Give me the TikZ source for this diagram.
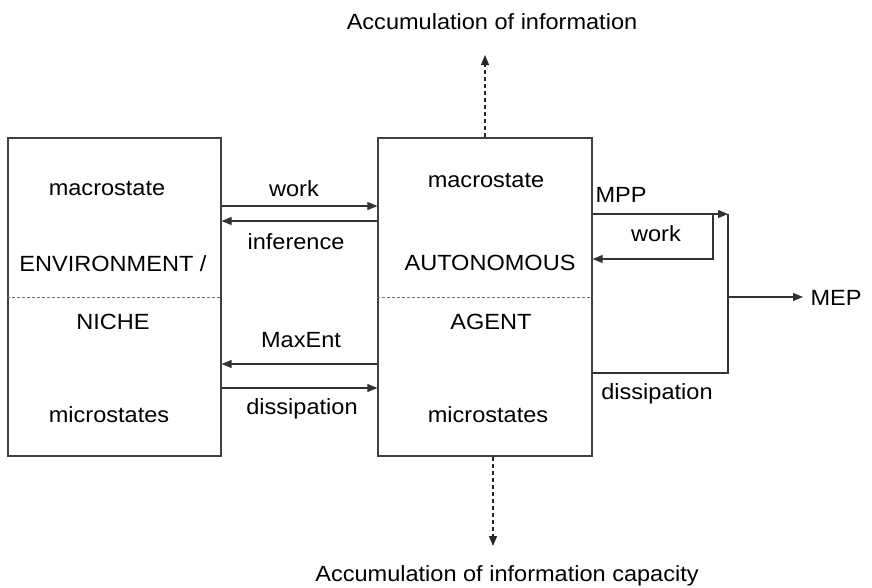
\documentclass[tikz,border=0pt]{standalone}
\usepackage{fontspec}
\setmainfont{Liberation Sans}[FakeStretch=1.07]
\usetikzlibrary{arrows.meta}
\begin{document}
\begin{tikzpicture}[x=1pt,y=-1pt,
  lbl/.style={anchor=base,inner sep=0pt,font=\fontsize{22}{26}\selectfont},
  boxst/.style={draw=black!75,line width=1.2pt,minimum width=213pt,minimum height=318pt,inner sep=0pt},
  ln/.style={draw=black!80,line width=1.1pt},
  arr/.style={ln,-{Triangle[length=10pt,width=8pt]}},
  darr/.style={draw=black!85,line width=1.1pt,dash pattern=on 4pt off 3pt,-{Triangle[length=10pt,width=8pt]}},
  divider/.style={draw=black!55,line width=0.9pt,dash pattern=on 3pt off 2pt}]
\useasboundingbox (0,0) rectangle (872,587);

% boxes
\node[boxst] (env) at (114.5,297) {};
\node[boxst,minimum width=214pt] (agent) at (485,297) {};

% dividers
\draw[divider] (env.west |- 0,297) -- (env.east |- 0,297);
\draw[divider] (agent.west |- 0,297) -- (agent.east |- 0,297);

% box texts
\node[lbl] (envmacro) at (107,195) {macrostate};
\node[lbl] (envname) at (113,271) {ENVIRONMENT /};
\node[lbl] (niche) at (113,329) {NICHE};
\node[lbl] (envmicro) at (109,422) {microstates};
\node[lbl] (agmacro) at (486,187) {macrostate};
\node[lbl] (agname) at (490,270) {AUTONOMOUS};
\node[lbl] (agent2) at (491,329) {AGENT};
\node[lbl] (agmicro) at (488,422) {microstates};

% middle arrows
\draw[arr] (env.east |- 0,206) -- (agent.west |- 0,206);
\draw[arr] (agent.west |- 0,221) -- (env.east |- 0,221);
\draw[arr] (agent.west |- 0,364) -- (env.east |- 0,364);
\draw[arr] (env.east |- 0,388) -- (agent.west |- 0,388);
\node[lbl] (lwork) at (294,196) {work};
\node[lbl] (linf) at (296,249) {inference};
\node[lbl] (lmax) at (301,347) {MaxEnt};
\node[lbl] (ldiss) at (302,414) {dissipation};

% right side
\coordinate (mpptip) at (728,214);
\coordinate (loopa) at (713,214);
\coordinate (loopb) at (713,259);
\coordinate (dissa) at (728,373);
\coordinate (mepstart) at (728,297);
\coordinate (meptip) at (803,297);
\node[lbl] (mep) at (836,305) {MEP};
\draw[arr] (agent.east |- mpptip) -- (mpptip);
\draw[arr] (loopa) -- (loopb) -- (agent.east |- loopb);
\draw[ln] (agent.east |- dissa) -- (dissa) -- (mpptip);
\draw[arr] (mepstart) -- (meptip);
\node[lbl] (lmpp) at (621,202) {MPP};
\node[lbl] (lwork2) at (656,241) {work};
\node[lbl] (ldiss2) at (657,399) {dissipation};

% top / bottom
\node[lbl] (acc) at (492,29) {Accumulation of information};
\node[lbl] (acccap) at (507,581) {Accumulation of information capacity};
\coordinate (toptip) at (485,55);
\coordinate (bottip) at (493,546);
\draw[darr] (agent.north -| toptip) -- (toptip);
\draw[darr] (agent.south -| bottip) -- (bottip);
\end{tikzpicture}
\end{document}
